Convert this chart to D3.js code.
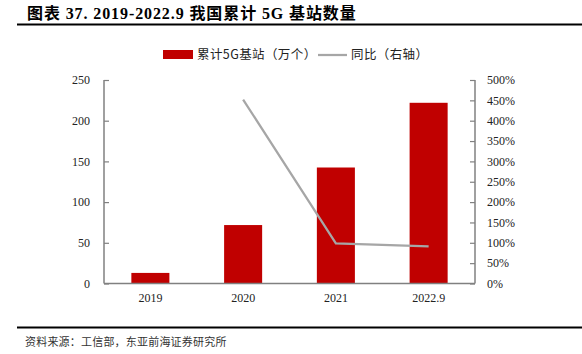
<!DOCTYPE html>
<html>
<head>
<meta charset="utf-8">
<script src="https://cdn.jsdelivr.net/npm/d3@7"></script>
<style>
  body { margin: 0; background: #fff; }
  text { font-family: "Liberation Serif", "Noto Sans CJK SC", serif; }
</style>
</head>
<body>
<div id="chart"></div>
<script>
var categories = ["2019", "2020", "2021", "2022.9"];
var stations = [13, 71.8, 142.5, 222];          // 累计5G基站（万个）
var growth = [null, 4.52, 0.985, 0.91];         // 同比（右轴）
var leftTicks = [0, 50, 100, 150, 200, 250];
var rightTicks = [0, 0.5, 1, 1.5, 2, 2.5, 3, 3.5, 4, 4.5, 5];

var W = 582, H = 354;
var margin = {top: 80, right: 107, bottom: 70.5, left: 104};
var width = W - margin.left - margin.right,
    height = H - margin.top - margin.bottom;

var svg = d3.select("#chart")
    .append("svg")
    .attr("width", W)
    .attr("height", H);

// title + rules
svg.append("text")
    .attr("x", 27).attr("y", 19)
    .attr("font-size", 16).attr("font-weight", "bold")
    .attr("letter-spacing", 0.9)
    .style("font-family", "'Liberation Serif', 'Noto Sans CJK SC', serif")
    .text("图表 37. 2019-2022.9 我国累计 5G 基站数量");
svg.append("line").attr("x1", 17).attr("x2", 582).attr("y1", 24.5).attr("y2", 24.5)
    .attr("stroke", "#000").attr("stroke-width", 2);
svg.append("line").attr("x1", 17).attr("x2", 582).attr("y1", 327.5).attr("y2", 327.5)
    .attr("stroke", "#000").attr("stroke-width", 2);
svg.append("text")
    .attr("x", 25).attr("y", 346)
    .attr("font-size", 11).attr("fill", "#333")
    .attr("letter-spacing", 0.2)
    .style("font-family", "'Noto Sans CJK SC', sans-serif")
    .text("资料来源：工信部，东亚前海证券研究所");

var g = svg.append("g")
    .attr("transform", "translate(" + margin.left + "," + margin.top + ")");

var x = d3.scaleBand().domain(categories).range([0, width]).paddingInner(0.59).paddingOuter(0.295);
var y = d3.scaleLinear().domain([0, 250]).range([height, 0]);
var y2 = d3.scaleLinear().domain([0, 5]).range([height, 0]);

// bars
g.selectAll("rect.bar")
    .data(categories)
    .enter().append("rect")
    .attr("class", "bar")
    .attr("x", function(d){ return x(d); })
    .attr("width", x.bandwidth())
    .attr("y", function(d, i){ return y(stations[i]); })
    .attr("height", function(d, i){ return height - y(stations[i]); })
    .attr("fill", "#c00000");

// line
var pts = categories.map(function(c, i){ return {c: c, v: growth[i]}; })
    .filter(function(d){ return d.v !== null; });
g.append("path")
    .datum(pts)
    .attr("fill", "none")
    .attr("stroke", "#a6a6a6")
    .attr("stroke-width", 2.25)
    .attr("d", d3.line()
      .x(function(d){ return x(d.c) + x.bandwidth() / 2; })
      .y(function(d){ return y2(d.v); }));

// axes
var axisColor = "#808080";
var gl = g.append("g")
    .call(d3.axisLeft(y).tickValues(leftTicks).tickSize(-5).tickPadding(14));
var gr = g.append("g")
    .attr("transform", "translate(" + width + ",0)")
    .call(d3.axisRight(y2).tickValues(rightTicks).tickSize(-5).tickPadding(12)
      .tickFormat(function(d){ return Math.round(d * 100) + "%"; }));
var gb = g.append("g")
    .attr("transform", "translate(0," + height + ")")
    .call(d3.axisBottom(x).tickSize(0).tickPadding(10));

[gl, gr, gb].forEach(function(a){
  a.select(".domain").attr("stroke", axisColor).attr("stroke-width", 1.5);
  a.selectAll(".tick line").attr("stroke", axisColor).attr("stroke-width", 1.2);
  a.selectAll("text").attr("font-size", 12).attr("fill", "#222")
    .style("font-family", "'Liberation Serif', serif");
});
gl.select(".domain").attr("d", "M0," + height + "V0");
gr.select(".domain").attr("d", "M0," + height + "V0");
gb.select(".domain").attr("d", "M0,0H" + width);

// legend
var lg = svg.append("g");
lg.append("rect").attr("x", 163).attr("y", 50).attr("width", 30).attr("height", 9).attr("fill", "#c00000");
lg.append("text").attr("x", 197).attr("y", 59).attr("font-size", 12.5).attr("fill", "#222")
    .attr("letter-spacing", 0.4)
    .style("font-family", "'Noto Sans CJK SC', sans-serif")
    .text("累计5G基站（万个）");
lg.append("line").attr("x1", 318).attr("x2", 347).attr("y1", 55).attr("y2", 55)
    .attr("stroke", "#a6a6a6").attr("stroke-width", 2.25);
lg.append("text").attr("x", 351).attr("y", 59).attr("font-size", 12.5).attr("fill", "#222")
    .attr("letter-spacing", 0.4)
    .style("font-family", "'Noto Sans CJK SC', sans-serif")
    .text("同比（右轴）");
</script>
</body>
</html>
